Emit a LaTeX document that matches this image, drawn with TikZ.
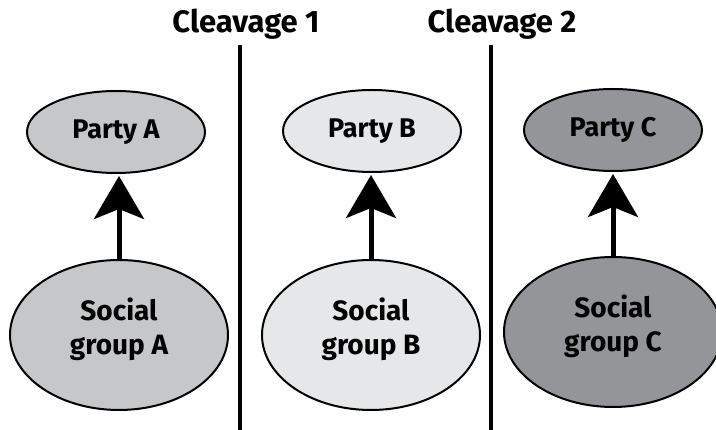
\documentclass[tikz,border=0pt]{standalone}
\usepackage{fontspec}
\setmainfont{Fira Sans}
\usetikzlibrary{shapes.geometric,arrows.meta}

\definecolor{fillA}{HTML}{C6C7C9}
\definecolor{fillB}{HTML}{E6E7E8}
\definecolor{fillC}{HTML}{939598}

\begin{document}
\begin{tikzpicture}[x=1pt,y=-1pt,
    party/.style={ellipse, draw=black, line width=2pt, minimum width=178pt,
        minimum height=82pt, inner sep=0pt, font=\fontsize{27}{30}\selectfont\bfseries},
    group/.style={ellipse, draw=black, line width=2pt, minimum width=218pt,
        minimum height=150pt, inner sep=0pt, align=center, text depth=18pt,
        font=\fontsize{28}{34}\selectfont\bfseries},
    link/.style={line width=5pt, -{Stealth[length=43pt,width=50pt,inset=10pt]},
        shorten >=2pt},
    divider/.style={line width=4pt},
    title/.style={inner sep=0pt, font=\fontsize{31}{33}\selectfont\bfseries}]
    \useasboundingbox (0,0) rectangle (716,430);

    % cleavage lines
    \node[title] (cl1) at (246,24) {Cleavage 1};
    \node[title] (cl2) at (502,24) {Cleavage 2};
    \coordinate (d1top) at (240,45);
    \coordinate (d1bot) at (240,430);
    \coordinate (d2top) at (491,45);
    \coordinate (d2bot) at (491,430);
    \draw[divider] (d1top) -- (d1bot);
    \draw[divider] (d2top) -- (d2bot);

    % parties
    \node[party, fill=fillA] (ptA) at (116,132) {Party A};
    \node[party, fill=fillB] (ptB) at (372,131) {Party B};
    \node[party, fill=fillC] (ptC) at (613,130) {Party C};

    % social groups
    \node[group, fill=fillA] (sgA) at (119,335) {Social\\group A};
    \node[group, fill=fillB] (sgB) at (371,335) {Social\\group B};
    \node[group, fill=fillC] (sgC) at (613,332) {Social\\group C};

    \draw[link] (sgA.north) -- (sgA.north |- ptA.south);
    \draw[link] (sgB.north) -- (sgB.north |- ptB.south);
    \draw[link] (sgC.north) -- (sgC.north |- ptC.south);
\end{tikzpicture}
\end{document}
